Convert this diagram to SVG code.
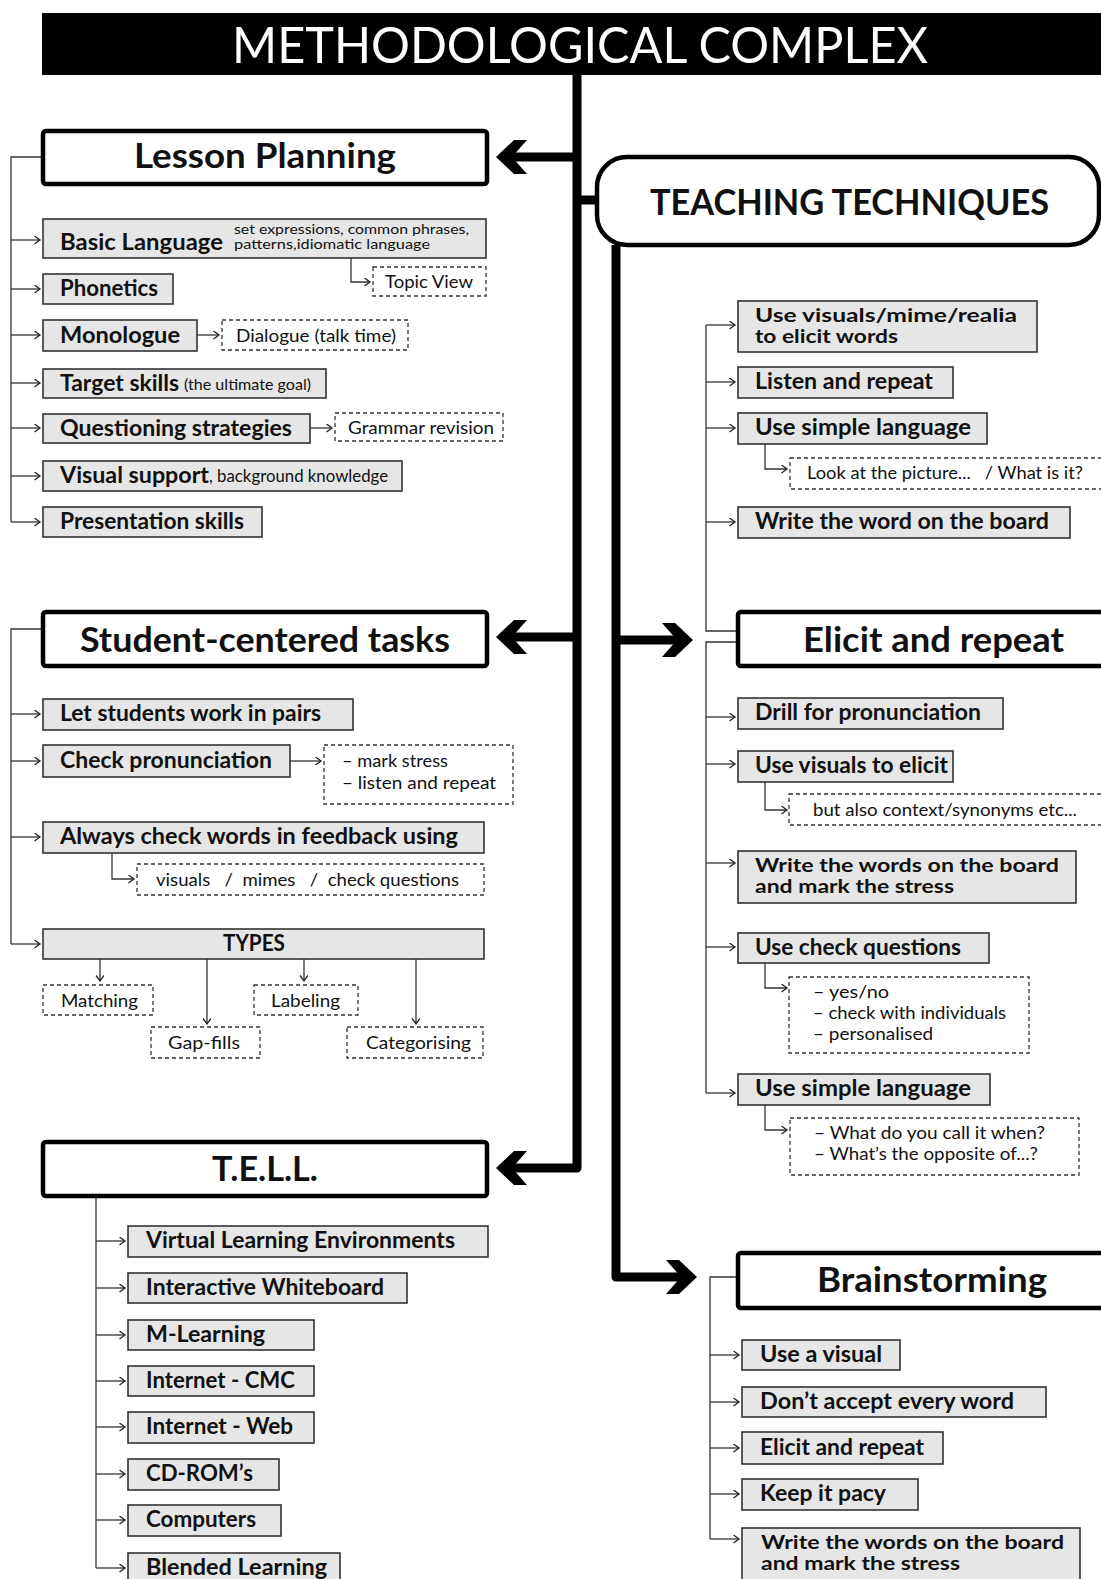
<svg xmlns="http://www.w3.org/2000/svg" width="1101" height="1579" viewBox="0 0 1101 1579">
<style>
text{font-family:Lato,"Liberation Sans",sans-serif;fill:#111;white-space:pre}
.title{font-size:50px;font-weight:400;fill:#fff}
.big{font-size:34px;font-weight:700}
.tt{font-size:36px;font-weight:700}
.bx{font-size:22px;font-weight:700}
.bx2{font-size:19px;font-weight:700}
.rg{font-size:18px;font-weight:400}
.rg2{font-size:17px;font-weight:400}
.sm{font-size:15px;font-weight:400}
.sm2{font-size:13px;font-weight:400}
.g{fill:#e6e6e6;stroke:#333;stroke-width:1.6}
.d{fill:#fff;stroke:#333;stroke-width:1.3;stroke-dasharray:4 3}
.H{fill:#fff;stroke:#000;stroke-width:4.5}
.c{fill:none;stroke:#333;stroke-width:1.3}
.a{fill:none;stroke:#333;stroke-width:1.3;marker-end:url(#ah)}
.th{fill:none;stroke:#000;stroke-width:9;stroke-linejoin:round}
.chev{fill:#000}
</style>
<defs>
<marker id="ah" markerWidth="10" markerHeight="10" refX="7" refY="4" orient="auto" markerUnits="userSpaceOnUse">
<path d="M1.5,0 L7,4 L1.5,8" fill="none" stroke="#222" stroke-width="1.3"/>
</marker>
</defs>
<rect width="1101" height="1579" fill="#fff"/>

<g id="title">
<rect x="42" y="13" width="1070" height="62" fill="#000"/>
<text class="title" x="232" y="63" textLength="696" lengthAdjust="spacingAndGlyphs">METHODOLOGICAL COMPLEX</text>
</g>

<g id="connectors">
<path class="th" d="M577,75 V1168 H505"/>
<path class="th" d="M577,157 H505"/>
<path class="th" d="M577,637 H505"/>
<path class="th" d="M577,200 H597"/>
<path class="th" d="M616,245 V1277 H688"/>
<path class="th" d="M616,640 H685"/>
<polygon class="chev" points="496,157 514,140 527,140 512,157 527,174 514,174"/>
<polygon class="chev" points="496,637 514,620 527,620 512,637 527,654 514,654"/>
<polygon class="chev" points="496,1168 514,1151 527,1151 512,1168 527,1185 514,1185"/>
<polygon class="chev" points="693,640 675,623 662,623 677,640 662,657 675,657"/>
<polygon class="chev" points="697,1277 679,1260 666,1260 681,1277 666,1294 679,1294"/>

<path class="c" d="M42,157 H11 V522"/>
<path class="a" d="M11,240 H40"/>
<path class="a" d="M11,289 H40"/>
<path class="a" d="M11,335 H40"/>
<path class="a" d="M11,383 H40"/>
<path class="a" d="M11,428 H40"/>
<path class="a" d="M11,476 H40"/>
<path class="a" d="M11,522 H40"/>
<path class="a" d="M351,258 V282 H370"/>
<path class="a" d="M197,335 H219"/>
<path class="a" d="M310,428 H332"/>

<path class="c" d="M42,629 H11 V944"/>
<path class="a" d="M11,714 H40"/>
<path class="a" d="M11,761 H40"/>
<path class="a" d="M11,837 H40"/>
<path class="a" d="M11,944 H40"/>
<path class="a" d="M290,761 H321"/>
<path class="a" d="M112,853 V879 H134"/>
<path class="a" d="M100,959 V981"/>
<path class="a" d="M207,959 V1024"/>
<path class="a" d="M304,959 V981"/>
<path class="a" d="M416,959 V1024"/>

<path class="c" d="M96,1197 V1568"/>
<path class="a" d="M96,1241 H125"/>
<path class="a" d="M96,1288 H125"/>
<path class="a" d="M96,1335 H125"/>
<path class="a" d="M96,1381 H125"/>
<path class="a" d="M96,1427 H125"/>
<path class="a" d="M96,1474 H125"/>
<path class="a" d="M96,1520 H125"/>
<path class="a" d="M96,1568 H125"/>

<path class="c" d="M706,325 V631 H738"/>
<path class="a" d="M706,325 H735"/>
<path class="a" d="M706,382 H735"/>
<path class="a" d="M706,428 H735"/>
<path class="a" d="M706,522 H735"/>
<path class="a" d="M765,444 V469 H787"/>

<path class="c" d="M738,642 H706 V1093"/>
<path class="a" d="M706,717 H735"/>
<path class="a" d="M706,764 H735"/>
<path class="a" d="M706,863 H735"/>
<path class="a" d="M706,947 H735"/>
<path class="a" d="M706,1093 H735"/>
<path class="a" d="M765,782 V810 H787"/>
<path class="a" d="M765,963 V988 H787"/>
<path class="a" d="M765,1105 V1130 H787"/>

<path class="c" d="M738,1277 H710 V1539"/>
<path class="a" d="M710,1355 H739"/>
<path class="a" d="M710,1402 H739"/>
<path class="a" d="M710,1448 H739"/>
<path class="a" d="M710,1494 H739"/>
<path class="a" d="M710,1539 H739"/>
</g>

<g id="lesson-planning">
<rect class="H" x="43" y="131" width="444" height="53" rx="3"/>
<text class="big" x="134" y="168" textLength="262" lengthAdjust="spacingAndGlyphs">Lesson Planning</text>
</g>
<g id="basic-language">
<rect class="g" x="43" y="219" width="443" height="39"/>
<text class="bx" x="60" y="250" textLength="163" lengthAdjust="spacingAndGlyphs">Basic Language</text>
<text class="sm2" x="234" y="234" textLength="235" lengthAdjust="spacingAndGlyphs">set expressions, common phrases,</text>
<text class="sm2" x="234" y="249" textLength="196" lengthAdjust="spacingAndGlyphs">patterns,idiomatic language</text>
</g>
<g id="topic-view">
<rect class="d" x="373" y="267" width="113" height="29"/>
<text class="rg" x="385" y="288" textLength="88" lengthAdjust="spacingAndGlyphs">Topic View</text>
</g>
<g id="phonetics">
<rect class="g" x="43" y="274" width="130" height="30"/>
<text class="bx" x="60" y="296" textLength="98" lengthAdjust="spacingAndGlyphs">Phonetics</text>
</g>
<g id="monologue">
<rect class="g" x="43" y="320" width="154" height="31"/>
<text class="bx" x="60" y="343" textLength="120" lengthAdjust="spacingAndGlyphs">Monologue</text>
</g>
<g id="dialogue">
<rect class="d" x="222" y="320" width="186" height="30"/>
<text class="rg" x="236" y="342" textLength="160" lengthAdjust="spacingAndGlyphs">Dialogue (talk time)</text>
</g>
<g id="target-skills">
<rect class="g" x="43" y="369" width="283" height="29"/>
<text class="bx" x="60" y="391" textLength="119" lengthAdjust="spacingAndGlyphs">Target skills</text>
<text class="sm" x="184" y="390" textLength="127" lengthAdjust="spacingAndGlyphs">(the ultimate goal)</text>
</g>
<g id="questioning">
<rect class="g" x="43" y="414" width="267" height="29"/>
<text class="bx" x="60" y="436" textLength="232" lengthAdjust="spacingAndGlyphs">Questioning strategies</text>
</g>
<g id="grammar-revision">
<rect class="d" x="335" y="413" width="168" height="28"/>
<text class="rg" x="348" y="434" textLength="146" lengthAdjust="spacingAndGlyphs">Grammar revision</text>
</g>
<g id="visual-support">
<rect class="g" x="43" y="461" width="359" height="30"/>
<text class="bx" x="60" y="483" textLength="149" lengthAdjust="spacingAndGlyphs">Visual support</text>
<text class="rg2" x="209" y="482" textLength="179" lengthAdjust="spacingAndGlyphs">, background knowledge</text>
</g>
<g id="presentation-skills">
<rect class="g" x="43" y="507" width="219" height="30"/>
<text class="bx" x="60" y="529" textLength="184" lengthAdjust="spacingAndGlyphs">Presentation skills</text>
</g>

<g id="student-centered">
<rect class="H" x="43" y="612" width="444" height="54" rx="3"/>
<text class="big" x="80" y="652" textLength="370" lengthAdjust="spacingAndGlyphs">Student-centered tasks</text>
</g>
<g id="pairs">
<rect class="g" x="43" y="699" width="310" height="31"/>
<text class="bx" x="60" y="721" textLength="261" lengthAdjust="spacingAndGlyphs">Let students work in pairs</text>
</g>
<g id="check-pron">
<rect class="g" x="43" y="745" width="247" height="32"/>
<text class="bx" x="60" y="768" textLength="212" lengthAdjust="spacingAndGlyphs">Check pronunciation</text>
</g>
<g id="mark-stress">
<rect class="d" x="324" y="745" width="189" height="59"/>
<text class="rg2" x="342" y="767" textLength="106" lengthAdjust="spacingAndGlyphs">– mark stress</text>
<text class="rg2" x="342" y="789" textLength="154" lengthAdjust="spacingAndGlyphs">– listen and repeat</text>
</g>
<g id="always-check">
<rect class="g" x="43" y="822" width="441" height="31"/>
<text class="bx" x="60" y="844" textLength="398" lengthAdjust="spacingAndGlyphs">Always check words in feedback using</text>
</g>
<g id="visuals-mimes">
<rect class="d" x="137" y="864" width="347" height="31"/>
<text class="rg" x="156" y="886" textLength="303" lengthAdjust="spacingAndGlyphs">visuals   /  mimes   /  check questions</text>
</g>
<g id="types">
<rect class="g" x="43" y="929" width="441" height="30"/>
<text class="bx" x="223" y="951" textLength="62" lengthAdjust="spacingAndGlyphs">TYPES</text>
</g>
<g id="matching">
<rect class="d" x="43" y="985" width="110" height="30"/>
<text class="rg" x="61" y="1007" textLength="77" lengthAdjust="spacingAndGlyphs">Matching</text>
</g>
<g id="gap-fills">
<rect class="d" x="151" y="1027" width="109" height="31"/>
<text class="rg" x="168" y="1049" textLength="72" lengthAdjust="spacingAndGlyphs">Gap-fills</text>
</g>
<g id="labeling">
<rect class="d" x="254" y="985" width="104" height="30"/>
<text class="rg" x="271" y="1007" textLength="69" lengthAdjust="spacingAndGlyphs">Labeling</text>
</g>
<g id="categorising">
<rect class="d" x="347" y="1027" width="136" height="31"/>
<text class="rg" x="366" y="1049" textLength="105" lengthAdjust="spacingAndGlyphs">Categorising</text>
</g>

<g id="tell">
<rect class="H" x="43" y="1142" width="444" height="54" rx="3"/>
<text class="big" x="212" y="1181" textLength="106" lengthAdjust="spacingAndGlyphs">T.E.L.L.</text>
</g>
<g id="vle">
<rect class="g" x="128" y="1226" width="360" height="31"/>
<text class="bx" x="146" y="1248" textLength="309" lengthAdjust="spacingAndGlyphs">Virtual Learning Environments</text>
</g>
<g id="iwb">
<rect class="g" x="128" y="1273" width="279" height="30"/>
<text class="bx" x="146" y="1295" textLength="238" lengthAdjust="spacingAndGlyphs">Interactive Whiteboard</text>
</g>
<g id="m-learning">
<rect class="g" x="128" y="1320" width="186" height="30"/>
<text class="bx" x="146" y="1342" textLength="119" lengthAdjust="spacingAndGlyphs">M-Learning</text>
</g>
<g id="internet-cmc">
<rect class="g" x="128" y="1366" width="186" height="30"/>
<text class="bx" x="146" y="1388" textLength="149" lengthAdjust="spacingAndGlyphs">Internet - CMC</text>
</g>
<g id="internet-web">
<rect class="g" x="128" y="1412" width="186" height="31"/>
<text class="bx" x="146" y="1434" textLength="147" lengthAdjust="spacingAndGlyphs">Internet - Web</text>
</g>
<g id="cd-rom">
<rect class="g" x="128" y="1459" width="151" height="31"/>
<text class="bx" x="146" y="1481" textLength="107" lengthAdjust="spacingAndGlyphs">CD-ROM’s</text>
</g>
<g id="computers">
<rect class="g" x="128" y="1505" width="153" height="31"/>
<text class="bx" x="146" y="1527" textLength="110" lengthAdjust="spacingAndGlyphs">Computers</text>
</g>
<g id="blended">
<rect class="g" x="128" y="1553" width="212" height="32"/>
<text class="bx" x="146" y="1575" textLength="181" lengthAdjust="spacingAndGlyphs">Blended Learning</text>
</g>

<g id="teaching-techniques">
<rect class="H" x="597" y="157" width="502" height="88" rx="30"/>
<text class="tt" x="650" y="215" textLength="399" lengthAdjust="spacingAndGlyphs">TEACHING TECHNIQUES</text>
</g>
<g id="use-visuals-mime">
<rect class="g" x="738" y="301" width="299" height="51"/>
<text class="bx2" x="755" y="322" textLength="262" lengthAdjust="spacingAndGlyphs">Use visuals/mime/realia</text>
<text class="bx2" x="755" y="343" textLength="143" lengthAdjust="spacingAndGlyphs">to elicit words</text>
</g>
<g id="listen-repeat">
<rect class="g" x="738" y="367" width="215" height="31"/>
<text class="bx" x="755" y="389" textLength="178" lengthAdjust="spacingAndGlyphs">Listen and repeat</text>
</g>
<g id="use-simple-1">
<rect class="g" x="738" y="413" width="249" height="31"/>
<text class="bx" x="755" y="435" textLength="216" lengthAdjust="spacingAndGlyphs">Use simple language</text>
</g>
<g id="look-picture">
<rect class="d" x="790" y="458" width="330" height="31"/>
<text class="rg" x="807" y="479" textLength="276" lengthAdjust="spacingAndGlyphs">Look at the picture...   / What is it?</text>
</g>
<g id="write-word">
<rect class="g" x="738" y="507" width="332" height="31"/>
<text class="bx" x="755" y="529" textLength="294" lengthAdjust="spacingAndGlyphs">Write the word on the board</text>
</g>

<g id="elicit-repeat">
<rect class="H" x="738" y="612" width="380" height="54" rx="3"/>
<text class="big" x="803" y="652" textLength="261" lengthAdjust="spacingAndGlyphs">Elicit and repeat</text>
</g>
<g id="drill">
<rect class="g" x="738" y="698" width="265" height="31"/>
<text class="bx" x="755" y="720" textLength="226" lengthAdjust="spacingAndGlyphs">Drill for pronunciation</text>
</g>
<g id="use-visuals-elicit">
<rect class="g" x="738" y="751" width="215" height="31"/>
<text class="bx" x="755" y="773" textLength="193" lengthAdjust="spacingAndGlyphs">Use visuals to elicit</text>
</g>
<g id="but-also">
<rect class="d" x="789" y="794" width="330" height="31"/>
<text class="rg" x="813" y="816" textLength="264" lengthAdjust="spacingAndGlyphs">but also context/synonyms etc...</text>
</g>
<g id="write-words-1">
<rect class="g" x="738" y="851" width="338" height="52"/>
<text class="bx2" x="755" y="872" textLength="304" lengthAdjust="spacingAndGlyphs">Write the words on the board</text>
<text class="bx2" x="755" y="893" textLength="199" lengthAdjust="spacingAndGlyphs">and mark the stress</text>
</g>
<g id="use-check">
<rect class="g" x="738" y="933" width="251" height="30"/>
<text class="bx" x="755" y="955" textLength="206" lengthAdjust="spacingAndGlyphs">Use check questions</text>
</g>
<g id="yes-no">
<rect class="d" x="789" y="977" width="240" height="76"/>
<text class="rg2" x="813" y="998" textLength="76" lengthAdjust="spacingAndGlyphs">– yes/no</text>
<text class="rg2" x="813" y="1019" textLength="193" lengthAdjust="spacingAndGlyphs">– check with individuals</text>
<text class="rg2" x="813" y="1040" textLength="120" lengthAdjust="spacingAndGlyphs">– personalised</text>
</g>
<g id="use-simple-2">
<rect class="g" x="738" y="1074" width="252" height="31"/>
<text class="bx" x="755" y="1096" textLength="216" lengthAdjust="spacingAndGlyphs">Use simple language</text>
</g>
<g id="what-call">
<rect class="d" x="790" y="1118" width="289" height="57"/>
<text class="rg2" x="814" y="1139" textLength="231" lengthAdjust="spacingAndGlyphs">– What do you call it when?</text>
<text class="rg2" x="814" y="1160" textLength="224" lengthAdjust="spacingAndGlyphs">– What’s the opposite of...?</text>
</g>

<g id="brainstorming">
<rect class="H" x="738" y="1253" width="380" height="55" rx="3"/>
<text class="big" x="817" y="1292" textLength="230" lengthAdjust="spacingAndGlyphs">Brainstorming</text>
</g>
<g id="use-visual">
<rect class="g" x="742" y="1340" width="158" height="30"/>
<text class="bx" x="760" y="1362" textLength="122" lengthAdjust="spacingAndGlyphs">Use a visual</text>
</g>
<g id="dont-accept">
<rect class="g" x="742" y="1387" width="304" height="30"/>
<text class="bx" x="760" y="1409" textLength="254" lengthAdjust="spacingAndGlyphs">Don’t accept every word</text>
</g>
<g id="elicit-repeat-2">
<rect class="g" x="742" y="1432" width="201" height="32"/>
<text class="bx" x="760" y="1455" textLength="164" lengthAdjust="spacingAndGlyphs">Elicit and repeat</text>
</g>
<g id="keep-pacy">
<rect class="g" x="742" y="1479" width="176" height="31"/>
<text class="bx" x="760" y="1501" textLength="126" lengthAdjust="spacingAndGlyphs">Keep it pacy</text>
</g>
<g id="write-words-2">
<rect class="g" x="742" y="1528" width="338" height="56"/>
<text class="bx2" x="761" y="1549" textLength="303" lengthAdjust="spacingAndGlyphs">Write the words on the board</text>
<text class="bx2" x="761" y="1570" textLength="199" lengthAdjust="spacingAndGlyphs">and mark the stress</text>
</g>
</svg>
